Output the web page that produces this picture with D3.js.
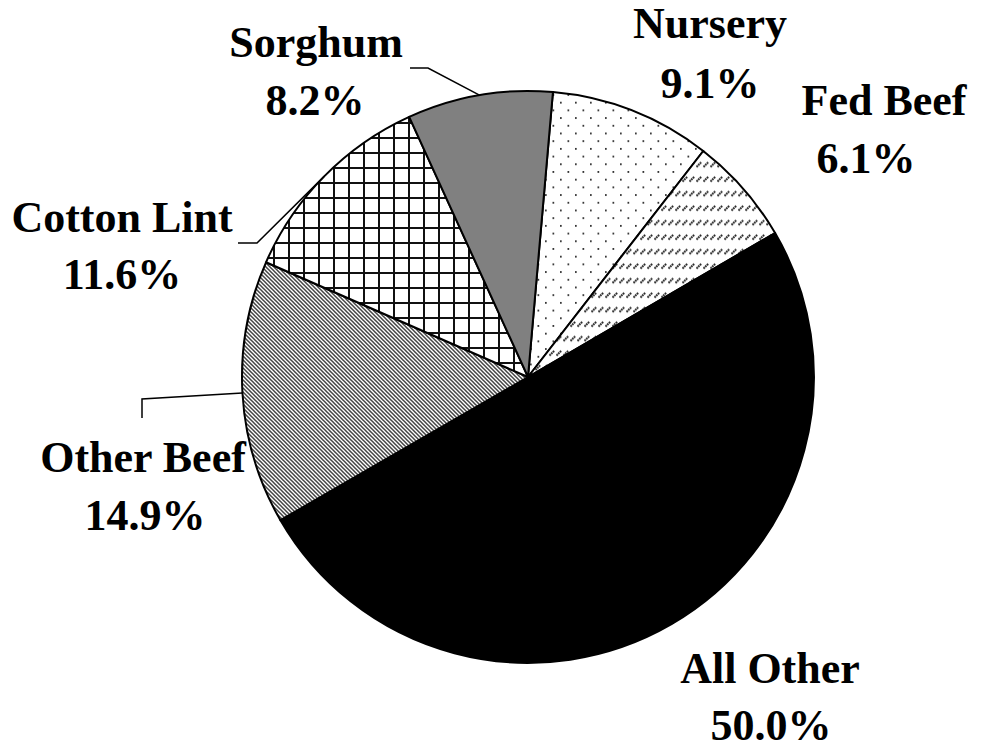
<!DOCTYPE html>
<html>
<head>
<meta charset="utf-8">
<script src="https://cdn.jsdelivr.net/npm/d3@7"></script>
<style>
  html, body { margin: 0; padding: 0; background: #fff; }
  svg { display: block; }
</style>
</head>
<body>
<svg id="chart" width="982" height="750"></svg>
<script>
// ---- data ----
const categories = ["Nursery", "Fed Beef", "All Other", "Other Beef", "Cotton Lint", "Sorghum"];
const shares = [9.1, 6.1, 50.0, 14.9, 11.6, 8.2];
const valueLabels = ["9.1%", "6.1%", "50.0%", "14.9%", "11.6%", "8.2%"];

// ---- layout (positions only) ----
const W = 982, H = 750;
const cx = 528, cy = 377, R = 286;
const startDeg = 5;
const FONT = "'Liberation Serif', 'Times New Roman', 'DejaVu Serif', serif";
const FONT_SIZE = 44;
const labelLayout = {
  "Nursery":     { x1: 710, y1: 38,  x2: 710, y2: 98 },
  "Fed Beef":    { x1: 884, y1: 115, x2: 866, y2: 173 },
  "All Other":   { x1: 770, y1: 683, x2: 771, y2: 740 },
  "Other Beef":  { x1: 143, y1: 472, x2: 145, y2: 530, leader: [[142, 418], [142, 399]] },
  "Cotton Lint": { x1: 122, y1: 232, x2: 122, y2: 289, leader: [[238, 243], [257, 243]] },
  "Sorghum":     { x1: 316, y1: 57,  x2: 315, y2: 115, leader: [[410, 68], [428, 68]] }
};
const fills = {
  "Nursery": "url(#pDots)",
  "Fed Beef": "url(#pDash)",
  "All Other": "#000000",
  "Other Beef": "url(#pDiag)",
  "Cotton Lint": "url(#pGrid)",
  "Sorghum": "#808080"
};

const svg = d3.select("#chart");
const defs = svg.append("defs");

const pDots = defs.append("pattern").attr("id", "pDots").attr("patternUnits", "userSpaceOnUse")
  .attr("width", 15).attr("height", 15.4);
pDots.append("rect").attr("width", 15).attr("height", 15.4).attr("fill", "#fff");
pDots.append("rect").attr("x", 2).attr("y", 2).attr("width", 1.7).attr("height", 1.7).attr("fill", "#222");
pDots.append("rect").attr("x", 9.5).attr("y", 9.7).attr("width", 1.7).attr("height", 1.7).attr("fill", "#222");

const pDash = defs.append("pattern").attr("id", "pDash").attr("patternUnits", "userSpaceOnUse")
  .attr("width", 7).attr("height", 14.5);
pDash.append("rect").attr("width", 7).attr("height", 14.5).attr("fill", "#fff");
pDash.append("line").attr("x1", 0.5).attr("y1", 7.5).attr("x2", 5.5).attr("y2", 2.5)
  .attr("stroke", "#222").attr("stroke-width", 2).attr("stroke-dasharray", "1.8,0.6");

const pDiag = defs.append("pattern").attr("id", "pDiag").attr("patternUnits", "userSpaceOnUse")
  .attr("width", 4).attr("height", 4);
pDiag.append("rect").attr("width", 4).attr("height", 4).attr("fill", "#fff");
pDiag.append("path").attr("d", "M-1,-1 L5,5 M-1,3 L1,5 M3,-1 L5,1")
  .attr("stroke", "#444").attr("stroke-width", 1.5);

const pGrid = defs.append("pattern").attr("id", "pGrid").attr("patternUnits", "userSpaceOnUse")
  .attr("width", 15).attr("height", 15);
pGrid.append("rect").attr("width", 15).attr("height", 15).attr("fill", "#fff");
pGrid.append("path").attr("d", "M1,0 V15 M0,1 H15")
  .attr("stroke", "#111").attr("stroke-width", 2);

// ---- pie ----
const data = categories.map((c, i) => ({ name: c, value: shares[i], label: valueLabels[i] }));
const start = startDeg * Math.PI / 180;
const pie = d3.pie().value(d => d.value).sort(null).startAngle(start).endAngle(start + 2 * Math.PI);
const arcs = pie(data);
const arc = d3.arc().innerRadius(0).outerRadius(R);

const g = svg.append("g").attr("transform", `translate(${cx},${cy})`);
g.selectAll("path.slice").data(arcs).enter().append("path")
  .attr("class", "slice")
  .attr("d", arc)
  .attr("fill", d => fills[d.data.name])
  .attr("stroke", "#000")
  .attr("stroke-width", 2)
  .attr("stroke-linejoin", "round");

// ---- leader lines ----
arcs.forEach(d => {
  const L = labelLayout[d.data.name];
  if (!L.leader) return;
  const mid = (d.startAngle + d.endAngle) / 2;
  const ex = cx + R * Math.sin(mid), ey = cy - R * Math.cos(mid);
  const pts = L.leader.concat([[ex, ey]]);
  svg.append("path").attr("d", d3.line()(pts))
    .attr("fill", "none").attr("stroke", "#000").attr("stroke-width", 1.5);
});

// ---- labels ----
function addText(x, y, str) {
  svg.append("text")
    .attr("x", x).attr("y", y)
    .attr("text-anchor", "middle")
    .attr("font-family", FONT).attr("font-weight", "bold")
    .attr("font-size", FONT_SIZE).attr("fill", "#000").text(str);
}
arcs.forEach(d => {
  const L = labelLayout[d.data.name];
  addText(L.x1, L.y1, d.data.name);
  addText(L.x2, L.y2, d.data.label);
});
</script>
</body>
</html>
